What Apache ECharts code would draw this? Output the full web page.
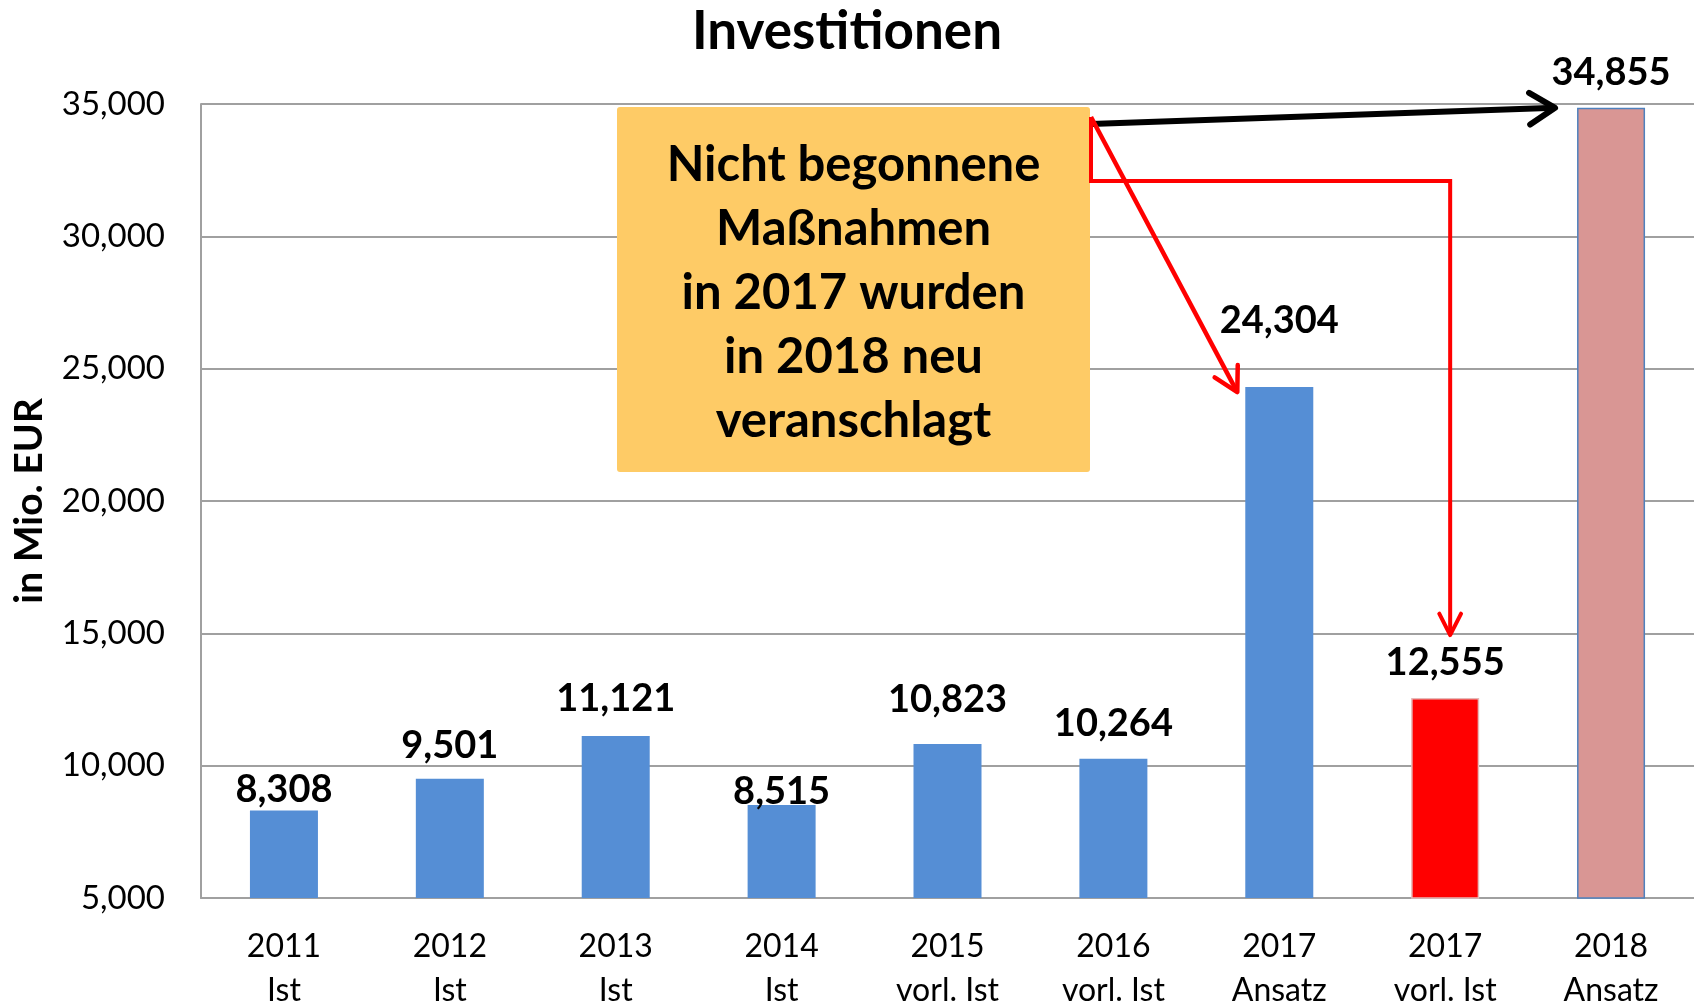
<!DOCTYPE html>
<html>
<head>
<meta charset="utf-8">
<title>Investitionen</title>
<script src="https://cdn.jsdelivr.net/npm/echarts@6/dist/echarts.min.js"></script>
<style>
  html, body { margin: 0; padding: 0; background: #fff; }
  #chart { width: 1694px; height: 1007px; }
</style>
</head>
<body>
<div id="chart"></div>
<script>
// Kategorien (Jahr + Art, zweizeilig)
const categories = ['2011\nIst', '2012\nIst', '2013\nIst', '2014\nIst', '2015\nvorl. Ist', '2016\nvorl. Ist', '2017\nAnsatz', '2017\nvorl. Ist', '2018\nAnsatz']
// Investitionen in Mio. EUR
const values = [8308, 9501, 11121, 8515, 10823, 10264, 24304, 12555, 34855]
// Achse
const yMin = 5000
const yMax = 35000
const yStep = 5000
// Textfeld
const noteLines = ['Nicht begonnene', 'Maßnahmen', 'in 2017 wurden', 'in 2018 neu', 'veranschlagt']

// Farben je Balken
const barColors = ['#558ED5', '#558ED5', '#558ED5', '#558ED5', '#558ED5', '#558ED5', '#558ED5', '#FF0000', '#D99694']
const barBorders = [null, null, null, null, null, null, null, '#E6B9B8', '#4F81BD']
// Beschriftungen wurden im Original von Hand verschoben (px, + = nach unten)
const labelNudge = [14, 2, -2, 22, -9, 0, -31, 0, 0]

const FONT = 'Lato'
const BAR_W = 68
const fmt = v => v.toLocaleString('en-US')

const option = {
  animation: false,
  textStyle: { fontFamily: FONT },
  title: {
    text: 'Investitionen',
    left: 'center',
    top: 0,
    textStyle: { fontFamily: FONT, fontSize: 53, fontWeight: 'bold', color: '#000' }
  },
  grid: { left: 201, right: 0, top: 104, bottom: 109, outerBoundsMode: 'none' },
  xAxis: {
    type: 'category',
    data: categories,
    axisTick: { show: false },
    axisLine: { lineStyle: { color: '#A0A0A0', width: 2 } },
    axisLabel: { interval: 0, fontSize: 32, lineHeight: 44, margin: 27, color: '#000', fontFamily: FONT }
  },
  yAxis: {
    type: 'value',
    min: yMin,
    max: yMax,
    interval: yStep,
    name: 'in Mio. EUR',
    nameLocation: 'middle',
    nameRotate: 90,
    nameGap: 152,
    nameTextStyle: { fontSize: 39, fontWeight: 'bold', color: '#000', fontFamily: FONT },
    axisLine: { show: true, lineStyle: { color: '#A0A0A0', width: 2 } },
    axisTick: { show: false },
    splitLine: { lineStyle: { color: '#A0A0A0', width: 2 } },
    axisLabel: { fontSize: 33, margin: 36, color: '#000', fontFamily: FONT, formatter: fmt }
  },
  series: [
    {
      type: 'bar',
      barWidth: BAR_W,
      data: values.map((v, i) => ({
        value: v,
        itemStyle: {
          color: barColors[i],
          borderColor: barBorders[i] || barColors[i],
          borderWidth: barBorders[i] ? 1.5 : 0
        },
        label: { offset: [0, labelNudge[i]] }
      })),
      label: {
        show: true,
        position: 'top',
        distance: 16,
        fontSize: 38,
        fontWeight: 'bold',
        color: '#000',
        fontFamily: FONT,
        formatter: p => fmt(p.value)
      }
    }
  ]
}

const chart = echarts.init(document.getElementById('chart'))
chart.setOption(option)

// Pfeil: Linienzug mit offener Spitze am letzten Punkt
function arrow(points, color, width, headLen, headDeg) {
  const n = points.length
  const [x1, y1] = points[n - 2]
  const [x2, y2] = points[n - 1]
  const a = Math.atan2(y2 - y1, x2 - x1)
  const h = headDeg * Math.PI / 180
  const head = [
    [x2 - headLen * Math.cos(a - h), y2 - headLen * Math.sin(a - h)],
    [x2, y2],
    [x2 - headLen * Math.cos(a + h), y2 - headLen * Math.sin(a + h)]
  ]
  return [
    { type: 'polyline', z: 110, shape: { points: points }, style: { stroke: color, lineWidth: width, fill: null, lineJoin: 'miter' } },
    { type: 'polyline', z: 110, shape: { points: head }, style: { stroke: color, lineWidth: width, fill: null, lineCap: 'round', lineJoin: 'round' } }
  ]
}

const px = i => chart.convertToPixel({ seriesIndex: 0 }, [i, values[i]])
const box = { x: 617, y: 107, w: 473, h: 365 }
const corner = [box.x + box.w + 1, box.y + 10]
const p6 = px(6)
const p7 = px(7)
const p8 = px(8)

const graphics = [
  {
    type: 'rect',
    z: 100,
    shape: { x: box.x, y: box.y, width: box.w, height: box.h, r: 3 },
    style: { fill: '#FECB66' }
  },
  {
    type: 'text',
    z: 101,
    x: box.x + box.w / 2,
    y: box.y + box.h / 2 + 4,
    style: {
      text: noteLines.join('\n'),
      fontSize: 49,
      fontWeight: 'bold',
      fontFamily: FONT,
      lineHeight: 64,
      align: 'center',
      verticalAlign: 'middle',
      fill: '#000'
    }
  }
]
  .concat(arrow([[corner[0], corner[1] + 7], [p8[0] - BAR_W / 2 - 22, p8[1]]], '#000', 6, 30, 32))
  .concat(arrow([corner, [p6[0] - BAR_W / 2 - 8, p6[1] + 5]], '#FF0000', 4.5, 27, 29))
  .concat(arrow([corner, [corner[0], 181], [p7[0] + 5, 181], [p7[0] + 5, p7[1] - 63]], '#FF0000', 4, 24, 27))

chart.setOption({ graphic: graphics })
</script>
</body>
</html>
